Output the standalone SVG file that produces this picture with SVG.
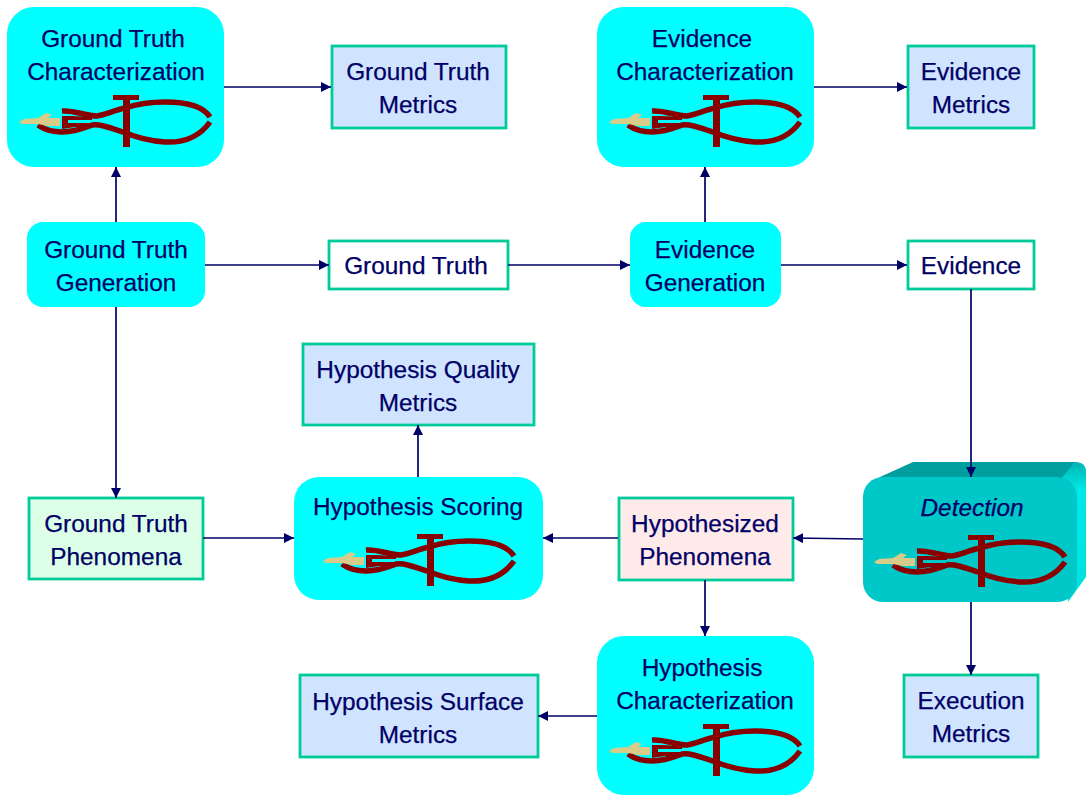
<svg xmlns="http://www.w3.org/2000/svg" xmlns:xlink="http://www.w3.org/1999/xlink" width="1086" height="795" viewBox="0 0 1086 795">
<style>
text{font-family:"Liberation Sans",Arial,sans-serif;font-size:24.4px;fill:#000066;text-anchor:middle;stroke:#000066;stroke-width:0.25;transform:translateY(-0.7px)}
.c{fill:#00ffff}
.b{stroke:#00cc99;stroke-width:2.8}
.m{fill:#d0e4ff}
.w{fill:#ffffff}
.con line{stroke:#000066;stroke-width:1.7;fill:none;marker-end:url(#a)}
.r{fill:none;stroke:#880000;stroke-width:5.5}
</style>
<defs>
<marker id="a" viewBox="0 0 10 10" refX="10" refY="5" markerWidth="10" markerHeight="10" markerUnits="userSpaceOnUse" orient="auto"><path d="M0,0L10,5L0,10Z" fill="#000066"/></marker>
<linearGradient id="side" x1="0" y1="0" x2="0" y2="1"><stop offset="0" stop-color="#00b4b4"/><stop offset="0.2" stop-color="#00e8e8"/><stop offset="1" stop-color="#00e0e0"/></linearGradient>
<g id="icon">
<path class="r" d="M38,125C45,130 53,132 62,132C75,132 84,128 92,125C100,124 108,127 123,132C135,137 150,141 165,142C185,143 200,136 210,122"/>
<path class="r" d="M62,111C75,110 85,116 97,116C105,115 115,110 125,108C140,103 150,102 165,102C185,102 203,106 210,117"/>
<path fill="#880000" d="M62,116H72L92,117V120H68V123H92V127H75L62,129Z"/>
<path fill="#880000" d="M113,95H139V100H130V147H123V100H113Z"/>
<path fill="#d8cc88" d="M19,122L24,119L38,118L46,113L52,115L48,118L60,118L60,126L48,126L38,124L22,124Z"/>
</g>
</defs>
<g id="gt-char"><rect class="c" x="7" y="7" width="217" height="160" rx="27"/><text x="113" y="48">Ground Truth</text><text x="116" y="81">Characterization</text><use xlink:href="#icon"/></g>
<g id="gt-metrics"><rect class="m b" x="332" y="46" width="174" height="82"/><text x="418" y="81">Ground Truth</text><text x="418" y="114">Metrics</text></g>
<g id="ev-char"><rect class="c" x="597" y="7" width="217" height="160" rx="27"/><text x="702" y="48">Evidence</text><text x="705" y="81">Characterization</text><use xlink:href="#icon" x="590"/></g>
<g id="ev-metrics"><rect class="m b" x="908" y="46" width="126" height="82"/><text x="971" y="81">Evidence</text><text x="971" y="114">Metrics</text></g>
<g id="gt-gen"><rect class="c" x="27" y="222" width="178" height="85" rx="16"/><text x="116" y="259">Ground Truth</text><text x="116" y="292">Generation</text></g>
<g id="gt"><rect class="w b" x="329" y="241" width="179" height="48"/><text x="416" y="275">Ground Truth</text></g>
<g id="ev-gen"><rect class="c" x="630" y="222" width="151" height="85" rx="16"/><text x="705" y="259">Evidence</text><text x="705" y="292">Generation</text></g>
<g id="ev"><rect class="w b" x="908" y="241" width="126" height="48"/><text x="971" y="275">Evidence</text></g>
<g id="hq-metrics"><rect class="m b" x="303" y="344" width="231" height="81"/><text x="418" y="379">Hypothesis Quality</text><text x="418" y="412">Metrics</text></g>
<g id="gt-phen"><rect fill="#ddffe8" class="b" x="29" y="498" width="174" height="81"/><text x="116" y="533">Ground Truth</text><text x="116" y="566">Phenomena</text></g>
<g id="hyp-score"><rect class="c" x="294" y="477" width="249" height="123" rx="25"/><text x="418" y="516">Hypothesis Scoring</text><use xlink:href="#icon" x="304" y="439"/></g>
<g id="hyp-phen"><rect fill="#ffeaea" class="b" x="619" y="498" width="174" height="82"/><text x="705" y="533">Hypothesized</text><text x="705" y="566">Phenomena</text></g>
<g id="detection">
<path fill="#009e9e" d="M868,486L880,477L913,462H1077V490H868Z"/>
<path fill="url(#side)" d="M1060,480L1075,462Q1086,462 1086,472V577L1068,602Z"/>
<rect fill="#00c8c8" x="863" y="477" width="214" height="125" rx="20"/>
<text x="972" y="517" font-style="italic">Detection</text>
<use xlink:href="#icon" x="855" y="440"/>
</g>
<g id="hyp-char"><rect class="c" x="597" y="636" width="217" height="159" rx="27"/><text x="702" y="677">Hypothesis</text><text x="705" y="710">Characterization</text><use xlink:href="#icon" x="590" y="629"/></g>
<g id="hs-metrics"><rect class="m b" x="300" y="675" width="238" height="82"/><text x="418" y="711">Hypothesis Surface</text><text x="418" y="744">Metrics</text></g>
<g id="ex-metrics"><rect class="m b" x="904" y="675" width="134" height="82"/><text x="971" y="710">Execution</text><text x="971" y="743">Metrics</text></g>
<g class="con">
<line x1="224" y1="87" x2="331" y2="87"/>
<line x1="814" y1="87" x2="907" y2="87"/>
<line x1="116" y1="222" x2="116" y2="167"/>
<line x1="705" y1="222" x2="705" y2="167"/>
<line x1="205" y1="265" x2="329" y2="265"/>
<line x1="508" y1="265" x2="630" y2="265"/>
<line x1="781" y1="265" x2="907" y2="265"/>
<line x1="116" y1="307" x2="116" y2="498"/>
<line x1="971" y1="289" x2="971" y2="477"/>
<line x1="418" y1="477" x2="418" y2="425"/>
<line x1="203" y1="538" x2="294" y2="538"/>
<line x1="618" y1="538" x2="543" y2="538"/>
<line x1="863" y1="539" x2="793" y2="538"/>
<line x1="705" y1="580" x2="705" y2="636"/>
<line x1="971" y1="602" x2="971" y2="675"/>
<line x1="597" y1="716" x2="538" y2="716"/>
</g>
</svg>
